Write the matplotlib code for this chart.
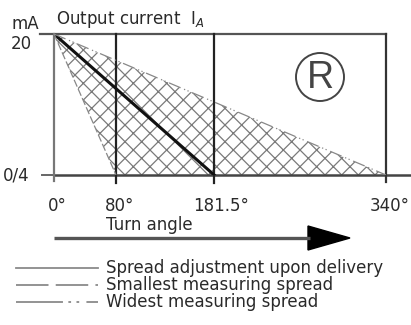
import numpy as np
import matplotlib.pyplot as plt
from matplotlib.patches import Circle, Polygon

# turn angle marks (deg) and where they sit on the (schematic) axis
angles = [0, 80, 181.5, 340]
angle_labels = ['0°', '80°', '181.5°', '340°']
x_pos = [0, 63.5, 164, 340]

# output current range (mA)
i_top = 20
i_bottom = 4

legend_labels = ['Spread adjustment upon delivery',
                 'Smallest measuring spread',
                 'Widest measuring spread']

plt.rcParams['font.family'] = 'DejaVu Sans'
plt.rcParams['hatch.linewidth'] = 0.9
plt.rcParams['hatch.color'] = '#7a7a7a'

W, H = 411, 325
fig = plt.figure(figsize=(W / 100, H / 100), dpi=100)
fig.patch.set_facecolor('white')

# overlay in pixel units for labels, symbol, arrow and legend
ov = fig.add_axes([0, 0, 1, 1])
ov.set_xlim(0, W)
ov.set_ylim(H, 0)
ov.axis('off')

# main chart area in pixels: 0deg at x=54, 340deg at x=386, 20mA at y=34, 4mA at y=175
ax = fig.add_axes([54 / W, 1 - 175 / H, (386 - 54) / W, (175 - 34) / H])
ax.set_xlim(0, 340)
ax.set_ylim(i_bottom, i_top)
ax.axis('off')

# hatched band between smallest and widest spread
band = Polygon([[x_pos[0], i_top], [x_pos[1], i_bottom], [x_pos[3], i_bottom]],
               closed=True, facecolor='white', edgecolor='#7a7a7a', hatch='xx',
               linewidth=0)
ax.add_patch(band)

# frame: top line, left and right verticals, base line
ax.plot([-14, 340], [i_top, i_top], color='#555555', lw=1.6, clip_on=False)
ax.plot([-12, 0], [i_bottom, i_bottom], color='#666666', lw=1.4, clip_on=False)
ax.plot([0, 372], [i_bottom, i_bottom], color='#444444', lw=1.8, clip_on=False)
ax.plot([0, 0], [i_top, 3.3], color='#777777', lw=1.6, clip_on=False)
ax.plot([340, 340], [i_top, 3.2], color='#333333', lw=1.6, clip_on=False)
for xp in x_pos[1:3]:
    ax.plot([xp, xp], [i_top, 3.1], color='#222222', lw=1.6, clip_on=False)

# characteristic lines
ax.plot([x_pos[0], x_pos[2]], [i_top, i_bottom], color='#111111', lw=2.2)
ax.plot([x_pos[0], x_pos[1]], [i_top, i_bottom], color='#888888', lw=0.9,
        dashes=(6, 2))
ax.plot([x_pos[0], x_pos[3]], [i_top, i_bottom], color='#888888', lw=0.9,
        dashes=(10, 3, 1, 2, 1, 3))

fs = 12
ink = '#2a2a2a'
label_x = [57, 120, 221, 390]
for px, lab in zip(label_x, angle_labels):
    ov.text(px, 206, lab, ha='center', va='center', fontsize=fs, color=ink)

ov.text(11, 24, 'mA', fontsize=fs, va='center', color=ink)
ov.text(11, 44, '20', fontsize=fs, va='center', color=ink)
ov.text(3, 176, '0/4', fontsize=fs, va='center', color=ink)
ov.text(56, 19, 'Output current  I$_A$', fontsize=fs, va='center', color=ink)
ov.text(106, 225, 'Turn angle', fontsize=fs, va='center', color=ink)

ov.add_patch(Circle((320, 77), 24, fill=False, edgecolor='#444444', lw=1.4))
ov.text(320, 78, 'R', fontsize=27, ha='center', va='center', color='#444444',
        family='Liberation Sans')

# turn direction arrow
ov.plot([54, 310], [238, 238], color='#555555', lw=2.4, solid_capstyle='butt')
ov.add_patch(Polygon([[308, 226], [350, 238], [308, 250]], closed=True,
                     facecolor='black', edgecolor='black'))

# legend
styles = [dict(), dict(dashes=(18, 4)), dict(dashes=(26, 3, 1.5, 3, 1.5, 4))]
for k, (lab, st) in enumerate(zip(legend_labels, styles)):
    yy = 268 + k * 17
    ov.plot([16, 98], [yy, yy], color='#8a8a8a', lw=1.3, **st)
    ov.text(106, yy, lab, fontsize=fs, va='center', color=ink)

fig.savefig('out.png', dpi=100, facecolor='white')
